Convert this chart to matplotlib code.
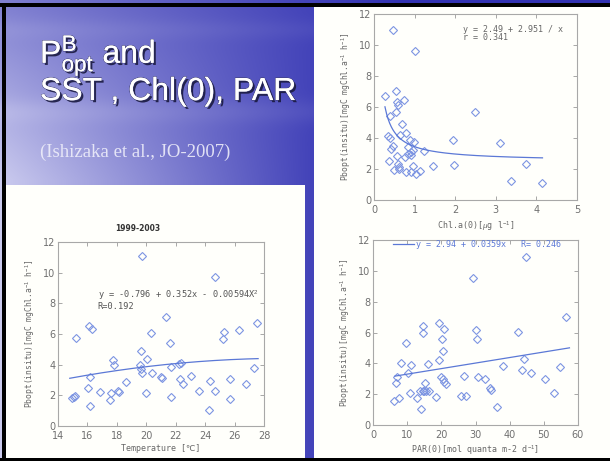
import numpy as np
import matplotlib
matplotlib.use("Agg")
from matplotlib import pyplot as plt
import matplotlib.patheffects as pe
from matplotlib.patches import Rectangle

plt.rcParams["mathtext.fontset"] = "custom"
plt.rcParams["mathtext.rm"] = "Liberation Sans"
plt.rcParams["mathtext.it"] = "Liberation Sans:italic"

# ---- data ----
chl_x = [0.47, 1.0, 0.28, 0.55, 0.74, 0.57, 0.6, 0.54, 0.39, 2.49, 0.70, 0.80, 0.63,
         0.34, 0.39, 0.88, 0.99, 1.95, 3.1, 0.47, 0.41, 0.84, 0.96, 0.92, 1.24, 0.84,
         0.57, 0.76, 0.92, 0.36, 0.58, 0.96, 1.46, 1.97, 3.75, 0.62, 0.49, 0.62, 0.8,
         0.9, 1.13, 1.03, 3.38, 4.15]
chl_y = [11.0, 9.6, 6.7, 7.05, 6.45, 6.3, 6.1, 5.7, 5.4, 5.7, 4.9, 4.35, 4.2,
         4.1, 4.0, 3.87, 3.76, 3.9, 3.65, 3.5, 3.3, 3.45, 3.2, 3.1, 3.15, 3.0,
         2.85, 2.8, 2.9, 2.5, 2.3, 2.2, 2.2, 2.25, 2.3, 2.1, 1.95, 2.0, 1.8,
         1.83, 1.9, 1.65, 1.25, 1.07]
chl_fit = (2.49, 0.951)          # y = a + b / x  (curve as drawn)
chl_fit_range = (0.27, 4.15)

temp_x = [15.07, 14.97, 15.18, 15.2, 16.1, 16.3, 16.2, 16.06, 16.2, 16.85, 17.74, 17.8,
          17.5, 17.6, 18.1, 18.13, 18.6, 19.74, 19.65, 19.6, 19.67, 19.74, 20.05, 19.96,
          20.35, 20.42, 21.0, 21.05, 21.37, 21.6, 21.7, 22.23, 22.35, 22.28, 21.7, 22.5,
          23.07, 23.6, 24.3, 24.27, 24.7, 24.7, 25.2, 25.3, 25.7, 25.7, 26.3, 26.8,
          27.3, 27.55]
temp_y = [1.89, 1.85, 1.96, 5.74, 6.5, 6.35, 3.2, 2.48, 1.28, 2.22, 4.28, 3.96,
          1.67, 2.17, 2.28, 2.22, 2.87, 11.09, 4.89, 4.0, 3.74, 3.45, 4.39, 2.17,
          6.07, 3.46, 3.2, 3.13, 7.1, 5.43, 3.85, 4.07, 4.1, 3.09, 1.87, 2.76,
          3.28, 2.26, 2.91, 1.07, 9.7, 2.26, 5.7, 6.15, 3.04, 1.78, 6.28, 2.72,
          3.78, 6.74]
temp_fit = (-0.796, 0.352, -0.00594)   # y = a + b x + c x^2
temp_fit_range = (14.8, 27.6)

par_x = [6.2, 7.6, 6.85, 6.9, 8.1, 9.6, 10.3, 10.8, 11.05, 12.8, 14.0, 13.8, 14.5,
         15.0, 15.6, 14.5, 14.5, 15.3, 16.1, 16.4, 18.4, 19.2, 19.4, 20.0, 20.2, 20.35,
         20.6, 20.7, 20.9, 21.5, 25.7, 27.2, 26.5, 29.2, 30.1, 30.4, 30.8, 32.9, 34.3,
         34.5, 36.2, 38.0, 42.4, 43.5, 44.3, 46.3, 50.3, 52.9, 54.7, 44.8, 56.6]
par_y = [1.57, 1.78, 2.75, 3.12, 4.02, 5.33, 3.38, 2.1, 3.87, 1.72, 1.01, 2.2, 2.2,
         2.2, 2.2, 6.45, 5.98, 2.73, 3.98, 2.2, 1.83, 4.19, 6.62, 3.12, 5.59, 4.8,
         3.0, 6.24, 2.8, 2.65, 1.89, 1.89, 3.2, 9.53, 6.17, 5.59, 3.1, 2.97, 2.43,
         2.24, 1.18, 3.8, 6.02, 3.59, 4.3, 3.38, 2.99, 2.09, 3.76, 10.92, 6.99]
par_fit = (2.94, 0.0359)         # y = a + b x
par_fit_range = (6.4, 57.5)

ylabel = r"Pbopt(insitu)[mgC mgChl.a$^{-1}$ h$^{-1}$]"

W, H = 610, 461
fig = plt.figure(figsize=(W / 100, H / 100), dpi=100)

# ---- slide background ----
bg = fig.add_axes([0, 0, 1, 1])
yy, xx = np.mgrid[0:H, 0:W]
u = np.clip(xx / 310.0, 0, 1.3)
v = np.clip(yy / 180.0, 0, 1)
f = 0.55 + 0.35 * u - 0.45 * v * (1 - np.clip(u, 0, 1))
f = f - 0.07 * np.exp(-((yy - 112) / 12.0) ** 2) - 0.05 * np.exp(-((yy - 30) / 10.0) ** 2)
f = np.clip(f, 0, 1)[..., None]
light = np.array([0.86, 0.86, 0.96])
dark = np.array([0.20, 0.20, 0.70])
img = light * (1 - f) + dark * f
bg.imshow(img, extent=(0, W, H, 0), aspect="auto")
bg.set_xlim(0, W)
bg.set_ylim(H, 0)
bg.axis("off")

# white panels and black slide edges
bg.add_patch(Rectangle((314, 6), W - 314, H - 6, color="#fffffb", lw=0))
bg.add_patch(Rectangle((6, 185), 299, H - 185, color="#fffffb", lw=0))
bg.add_patch(Rectangle((0, 3), W, 4, color="black", lw=0))
bg.add_patch(Rectangle((2, 3), 4, H, color="black", lw=0))
bg.add_patch(Rectangle((0, 458), W, 3, color="black", lw=0))

# title
shadow = [pe.SimplePatchShadow(offset=(1.6, -1.6), shadow_rgbFace="#1a1a40", alpha=0.9),
          pe.withStroke(linewidth=0.8, foreground="#404070"), pe.Normal()]
fig.text(40 / W, 1 - 63 / H, r"P$^{\mathrm{B}}_{\mathrm{opt}}$ and", color="white",
         fontsize=23, family="Liberation Sans", va="baseline", path_effects=shadow)
fig.text(40 / W, 1 - 100 / H, "SST , Chl(0), PAR", color="white",
         fontsize=23, family="Liberation Sans", va="baseline", path_effects=shadow)
fig.text(40 / W, 1 - 157 / H, "(Ishizaka et al., JO-2007)", color="#eeeefa",
         fontsize=13.5, family="Liberation Serif", va="baseline", alpha=0.9)

mk = dict(ls="none", marker="D", ms=4.2, mfc="none", mec="#7d95e2", mew=0.8)
line_kw = dict(color="#5b78d6", lw=0.9)
tick_col = "#707070"


def style(ax, xlim, xticks):
    ax.set_xlim(*xlim)
    ax.set_ylim(0, 12)
    ax.set_xticks(xticks)
    ax.set_yticks(range(0, 13, 2))
    ax.tick_params(direction="in", length=3, width=0.6, colors="#9a9a9a",
                   labelcolor=tick_col, labelsize=7, top=True, right=True, pad=2)
    ax.tick_params(axis="x", pad=3.5)
    for s in ax.spines.values():
        s.set_color("#a8a8a8")
        s.set_linewidth(0.8)
    ax.set_ylabel(ylabel, family="DejaVu Sans Mono", fontsize=5.8, color="#666666", labelpad=5)
    ax.set_facecolor("none")


# Chl.a plot
ax1 = fig.add_axes([374 / W, 1 - 200 / H, 203 / W, 186 / H])
ax1.plot(chl_x, chl_y, **mk)
xc = np.linspace(*chl_fit_range, 200)
ax1.plot(xc, chl_fit[0] + chl_fit[1] / xc, **line_kw)
style(ax1, (0, 5), range(0, 6))
ax1.set_xlabel(r"Chl.a(0)[$\mu$g l$^{-1}$]", family="DejaVu Sans Mono", fontsize=6,
               color="#666666", labelpad=3)
ax1.text(2.2, 10.75, "y = 2.49 + 2.951 / x\nr = 0.341", family="DejaVu Sans Mono",
         fontsize=6, color="#666666", linespacing=0.9, va="center")

# Temperature plot
ax2 = fig.add_axes([58 / W, 1 - 426 / H, 206 / W, 184 / H])
ax2.plot(temp_x, temp_y, **mk)
xt = np.linspace(*temp_fit_range, 200)
ax2.plot(xt, temp_fit[0] + temp_fit[1] * xt + temp_fit[2] * xt ** 2, **line_kw)
style(ax2, (14, 28), range(14, 29, 2))
ax2.set_xlabel("Temperature [℃]", family=["DejaVu Sans Mono", "DejaVu Sans"], fontsize=6,
               color="#666666", labelpad=2)
ax2.text(16.7, 8.25, "y = -0.796 + 0.352x - 0.00594X$^2$\nR=0.192",
         family="DejaVu Sans Mono", fontsize=6.2, color="#555555", linespacing=0.95,
         va="center")
fig.text(138 / W, 1 - 228 / H, "1999-2003", fontsize=5.5, weight="bold", color="#333333",
         ha="center", va="center")

# PAR plot
ax3 = fig.add_axes([373 / W, 1 - 425 / H, 205 / W, 185 / H])
ax3.plot(par_x, par_y, **mk)
xp = np.array(par_fit_range)
ax3.plot(xp, par_fit[0] + par_fit[1] * xp, label="y = 2.94 + 0.0359x   R= 0.246", **line_kw)
style(ax3, (0, 60), range(0, 61, 10))
ax3.set_xlabel(r"PAR(0)[mol quanta m-2 d$^{-1}$]", family="DejaVu Sans Mono", fontsize=6,
               color="#666666", labelpad=2)
ax3.legend(loc="upper left", bbox_to_anchor=(0.06, 1.04), frameon=False, handlelength=2.6,
           handletextpad=0.2, prop={"family": "DejaVu Sans Mono", "size": 6},
           labelcolor="#5b78d6")

fig.savefig("out.png", dpi=100)
